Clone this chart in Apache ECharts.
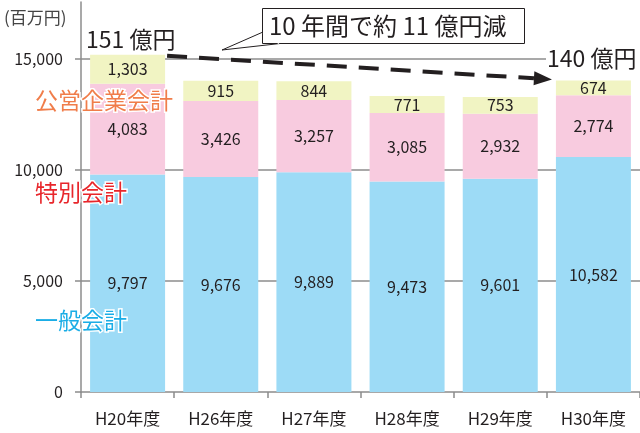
<!DOCTYPE html>
<html><head><meta charset="utf-8">
<script src="https://cdn.jsdelivr.net/npm/echarts@6/dist/echarts.min.js"></script>
<style>html,body{margin:0;padding:0;background:#fff}#c{width:640px;height:433px}</style>
</head><body><div id="c"></div>
<script>
const categories = ['H20年度','H26年度','H27年度','H28年度','H29年度','H30年度'];
const general = [9797, 9676, 9889, 9473, 9601, 10582];      // 一般会計
const special = [4083, 3426, 3257, 3085, 2932, 2774];       // 特別会計
const enterprise = [1303, 915, 844, 771, 753, 674];         // 公営企業会計
const yTicks = [0, 5000, 10000, 15000];
const seriesNames = ['一般会計','特別会計','公営企業会計'];

const FONT = '"Noto Sans CJK JP","Noto Sans",sans-serif';
const BAR_W = 75;
const fmt = v => String(v).replace(/\B(?=(\d{3})+(?!\d))/g, ',');
const lbl = {show:true, position:'inside', color:'#231F20', fontSize:16, fontFamily:FONT, formatter:p=>fmt(p.value)};

const chart = echarts.init(document.getElementById('c'));
chart.setOption({
  animation:false,
  grid:{left:81, right:0, top:2, bottom:41, containLabel:false},
  xAxis:{type:'category', data:categories,
    axisLine:{lineStyle:{color:'#8c8c8c', width:1.5}},
    axisTick:{show:true, length:6, lineStyle:{color:'#8c8c8c', width:1.5}},
    axisLabel:{color:'#231F20', fontSize:17, fontFamily:FONT, margin:18}},
  yAxis:{type:'value', min:0, max:17560, interval:5000,
    axisLine:{show:true, lineStyle:{color:'#8c8c8c', width:1.5}},
    axisTick:{show:true, length:6, lineStyle:{color:'#8c8c8c', width:1.5}},
    axisLabel:{color:'#231F20', fontSize:16, fontFamily:FONT, margin:18, showMaxLabel:false,
      formatter:v=> yTicks.indexOf(v)>=0 ? fmt(v) : ''},
    splitLine:{show:true, showMinLine:false, showMaxLine:false, lineStyle:{color:'#8c8c8c', width:1.5}}},
  series:[
    {name:seriesNames[0], type:'bar', stack:'t', data:general, barWidth:BAR_W, itemStyle:{color:'#9DDBF6'}, label:lbl},
    {name:seriesNames[1], type:'bar', stack:'t', data:special, barWidth:BAR_W, itemStyle:{color:'#F8CBDF'}, label:lbl},
    {name:seriesNames[2], type:'bar', stack:'t', data:enterprise, barWidth:BAR_W, itemStyle:{color:'#F1F4C3'}, label:lbl}
  ]
});

const tot0 = general[0]+special[0]+enterprise[0];
const n = categories.length-1;
const totN = general[n]+special[n]+enterprise[n];
const p0 = chart.convertToPixel({gridIndex:0}, [0, tot0]);
const p1 = chart.convertToPixel({gridIndex:0}, [n, totN]);
const x0 = p0[0] + BAR_W/2 + 2, y0 = p0[1] + 1;
const tx = p1[0] - BAR_W/2 - 4, ty = p1[1] - 1;
const ang = Math.atan2(ty-y0, tx-x0);
const AL = 18, AW = 7;
const bx = tx - AL*Math.cos(ang), by = ty - AL*Math.sin(ang);
const nx = -Math.sin(ang), ny = Math.cos(ang);

const txtStyle = (t, x, y, color, size, extra) => Object.assign({type:'text', x:x, y:y, z:50,
  style:Object.assign({text:t, fill:color, font:size+'px '+FONT, textVerticalAlign:'middle'}, extra||{})});

chart.setOption({graphic:[
  txtStyle('(百万円)', 4, 18, '#444', 17),
  {type:'line', z:40, shape:{x1:x0, y1:y0, x2:bx, y2:by}, style:{stroke:'#231F20', lineWidth:4, lineDash:[20,12]}},
  {type:'polygon', z:40, shape:{points:[[tx,ty],[bx+nx*AW,by+ny*AW],[bx-nx*AW,by-ny*AW]]}, style:{fill:'#231F20'}},
  txtStyle('151 億円', 86, 39, '#231F20', 23),
  {type:'rect', z:45, shape:{x:546, y:46, width:94, height:24}, style:{fill:'#fff'}},
  txtStyle('140 億円', 547, 58, '#231F20', 23),
  {type:'rect', z:45, shape:{x:262.5, y:8.5, width:262, height:35}, style:{fill:'#fff', stroke:'#231F20', lineWidth:1}},
  {type:'polyline', z:46, shape:{points:[[263,32],[222,50],[280,43.5]]}, style:{stroke:'#231F20', lineWidth:1, fill:null}},
  {type:'line', z:46, shape:{x1:263, y1:33, x2:279, y2:43.5}, style:{stroke:'#fff', lineWidth:1.2}},
  txtStyle('10 年間で約 11 億円減', 269, 26, '#231F20', 24),
  txtStyle('公営企業会計', 35, 100, '#F07D4A', 23, {stroke:'#fff', lineWidth:3}),
  txtStyle('特別会計', 35, 192, '#E8262B', 23, {stroke:'#fff', lineWidth:3}),
  txtStyle('一般会計', 35, 320, '#1AADE6', 23, {stroke:'#fff', lineWidth:3})
]});
</script></body></html>
